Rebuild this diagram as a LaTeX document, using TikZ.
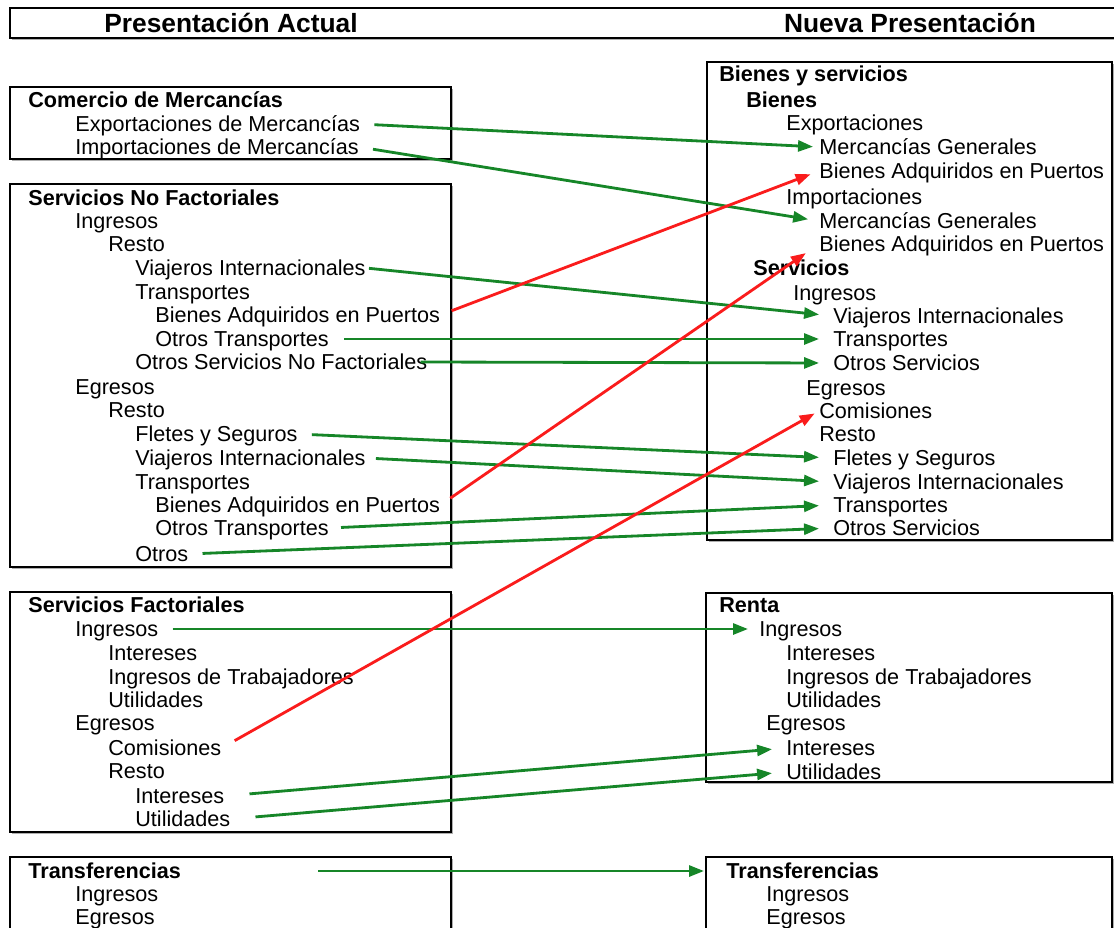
\documentclass[tikz,border=0pt]{standalone}
\usepackage{fontspec}
\setmainfont{Liberation Sans}
\usepackage{tikz}
\usetikzlibrary{arrows.meta,shadows}
\definecolor{verde}{RGB}{22,134,40}
\definecolor{rojo}{RGB}{250,28,28}

\begin{document}
\begin{tikzpicture}[
  x=0.02cm, y=-0.02cm,
  it/.style={anchor=west, inner sep=0pt, text height=11pt, text depth=2.6pt,
             font=\fontsize{12.3}{14}\selectfont},
  hd/.style={it, font=\fontsize{12.3}{14}\selectfont\bfseries},
  titulo/.style={font=\fontsize{15}{18}\selectfont\bfseries, inner sep=0pt},
  caja/.style={draw=black, line width=1.6pt, fill=white,
               drop shadow={shadow xshift=1.4pt, shadow yshift=-1.4pt,
                            fill=black!45, opacity=0.7}},
  flecha/.style={-{Triangle[length=0.3cm, width=0.22cm]}, line width=1.6pt,
                 draw=verde, fill=verde, shorten <=0.28cm, shorten >=0.28cm},
  roja/.style={flecha, draw=rojo, fill=rojo}
]
\useasboundingbox (0,0) rectangle (1114,927);

% ── Header ────────────────────────────
\draw[caja, line width=1.3pt] (10,8) rectangle (1124,38);
\node[titulo] (tizq) at (231,23) {Presentación Actual};
\node[titulo] (tder) at (910,23) {Nueva Presentación};

% ── Boxes ─────────────────────────────
\draw[caja] (10,87) rectangle (451,159);
\draw[caja] (10,184) rectangle (451,567);
\draw[caja] (10,592) rectangle (451,832);
\draw[caja] (10,857) rectangle (451,940);
\draw[caja] (707,62) rectangle (1112,540);
\draw[caja] (706,593) rectangle (1112,782);
\draw[caja] (706,857) rectangle (1112,940);

% ── Presentación actual ───────────────
\node[hd] (lcm)   at (28,100) {Comercio de Mercancías};
\node[it] (lexp)  at (75,124) {Exportaciones de Mercancías};
\node[it] (limp)  at (75,147) {Importaciones de Mercancías};

\node[hd] (lsnf)    at (28,198)  {Servicios No Factoriales};
\node[it] (lsnfIng) at (75,221)  {Ingresos};
\node[it] (lsnfIR)  at (108,244) {Resto};
\node[it] (lviajI)  at (135,268) {Viajeros Internacionales};
\node[it] (ltraI)   at (135,292) {Transportes};
\node[it] (lbapI)   at (155,315) {Bienes Adquiridos en Puertos};
\node[it] (lotI)    at (155,339) {Otros Transportes};
\node[it] (losnf)   at (135,362) {Otros Servicios No Factoriales};
\node[it] (lsnfEgr) at (75,387)  {Egresos};
\node[it] (lsnfER)  at (108,410) {Resto};
\node[it] (lfle)    at (135,434) {Fletes y Seguros};
\node[it] (lviajE)  at (135,458) {Viajeros Internacionales};
\node[it] (ltraE)   at (135,482) {Transportes};
\node[it] (lbapE)   at (155,505) {Bienes Adquiridos en Puertos};
\node[it] (lotE)    at (155,528) {Otros Transportes};
\node[it] (lotros)  at (135,554) {Otros};

\node[hd] (lsf)     at (28,605)  {Servicios Factoriales};
\node[it] (lsfIng)  at (75,629)  {Ingresos};
\node[it] (lsfInt)  at (108,653) {Intereses};
\node[it] (lsfTrab) at (108,677) {Ingresos de Trabajadores};
\node[it] (lsfUti)  at (108,700) {Utilidades};
\node[it] (lsfEgr)  at (75,723)  {Egresos};
\node[it] (lcom)    at (108,748) {Comisiones};
\node[it] (lsfER)   at (108,771) {Resto};
\node[it] (lintE)   at (135,796) {Intereses};
\node[it] (lutiE)   at (135,819) {Utilidades};

\node[hd] (ltr)     at (28,871)  {Transferencias};
\node[it] (ltrIng)  at (75,894)  {Ingresos};
\node[it] (ltrEgr)  at (75,917)  {Egresos};

% ── Nueva presentación ────────────────
\node[hd] (rbs)     at (719,74)  {Bienes y servicios};
\node[hd] (rbie)    at (746,100) {Bienes};
\node[it] (rexp)    at (786,123) {Exportaciones};
\node[it] (rmgE)    at (819,147) {Mercancías Generales};
\node[it] (rbapE)   at (819,171) {Bienes Adquiridos en Puertos};
\node[it] (rimp)    at (786,197) {Importaciones};
\node[it] (rmgI)    at (819,221) {Mercancías Generales};
\node[it] (rbapI)   at (819,244) {Bienes Adquiridos en Puertos};
\node[hd] (rser)    at (753,268) {Servicios};
\node[it] (rserIng) at (793,293) {Ingresos};
\node[it] (rviajI)  at (833,316) {Viajeros Internacionales};
\node[it] (rtraI)   at (833,339) {Transportes};
\node[it] (rosI)    at (833,363) {Otros Servicios};
\node[it] (rserEgr) at (806,388) {Egresos};
\node[it] (rcom)    at (819,411) {Comisiones};
\node[it] (rresto)  at (819,434) {Resto};
\node[it] (rfle)    at (833,458) {Fletes y Seguros};
\node[it] (rviajE)  at (833,482) {Viajeros Internacionales};
\node[it] (rtraE)   at (833,505) {Transportes};
\node[it] (rosE)    at (833,528) {Otros Servicios};

\node[hd] (rren)    at (719,605) {Renta};
\node[it] (rrenIng) at (759,629) {Ingresos};
\node[it] (rint)    at (786,653) {Intereses};
\node[it] (rtrab)   at (786,677) {Ingresos de Trabajadores};
\node[it] (ruti)    at (786,700) {Utilidades};
\node[it] (rrenEgr) at (766,723) {Egresos};
\node[it] (rintE)   at (786,748) {Intereses};
\node[it] (rutiE)   at (786,772) {Utilidades};

\node[hd] (rtr)     at (726,871) {Transferencias};
\node[it] (rtrIng)  at (766,894) {Ingresos};
\node[it] (rtrEgr)  at (766,917) {Egresos};
\coordinate (rtrbox) at (704,871);

% ── Green arrows ──────────────────────
\draw[flecha, shorten >=0.12cm] (lexp.east) -- (rmgE.west);
\draw[flecha, shorten >=0.22cm] (limp.east) -- (rmgI.west);
\draw[flecha, shorten <=0.06cm] (lviajI.east) -- (rviajI.west);
\draw[flecha, shorten <=0.3cm] (lotI.east) -- (rtraI.west);
\draw[flecha, shorten <=-0.14cm] (losnf.east) -- (rosI.west);
\draw[flecha] (lfle.east) -- (rfle.west);
\draw[flecha, shorten <=0.2cm] (lviajE.east) -- (rviajE.west);
\draw[flecha, shorten <=0.24cm] (lotE.east) -- (rtraE.west);
\draw[flecha] (lotros.east) -- (rosE.west);
\draw[flecha, shorten >=0.22cm] (lsfIng.east) -- (rrenIng.west);
\draw[flecha, shorten <=0.5cm] (lintE.east) -- (rintE.west);
\draw[flecha, shorten <=0.5cm] (lutiE.east) -- (rutiE.west);
\draw[flecha, shorten <=2.74cm, shorten >=0pt] (ltr.east) -- (rtrbox);

% ── Red arrows ────────────────────────
\draw[roja, shorten <=0.24cm, shorten >=0.18cm] (lbapI.east) -- (rbapE.west);
\draw[roja, shorten <=0.24cm, shorten >=0.32cm] (lbapE.east) -- (rbapI.west);
\draw[roja, shorten <=0.3cm, shorten >=0.1cm] (lcom.east) -- (rcom.west);

\end{tikzpicture}
\end{document}
